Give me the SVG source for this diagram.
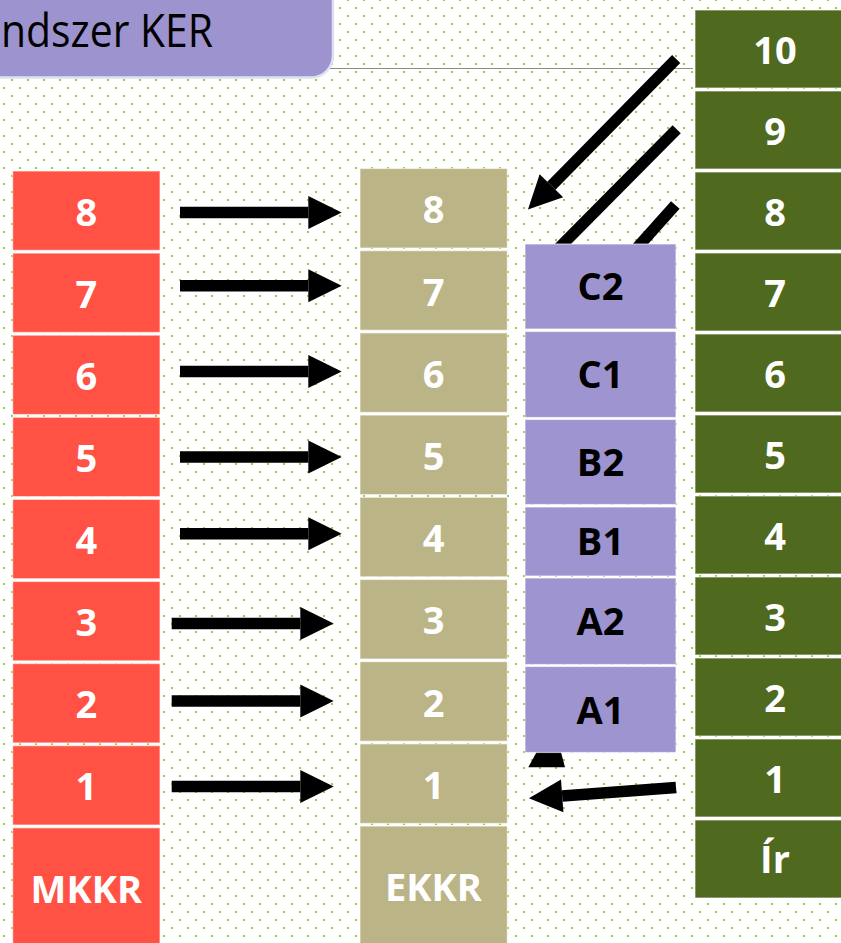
<svg xmlns="http://www.w3.org/2000/svg" width="841" height="943" viewBox="0 0 841 943">
<style>
.bg{fill:#fff}
.red{fill:#FF5244;stroke:#fff;stroke-opacity:.55;stroke-width:1.2}
.tan{fill:#BBB486;stroke:#fff;stroke-opacity:.55;stroke-width:1.2}
.grn{fill:#4F6A1E;stroke:#fff;stroke-opacity:.55;stroke-width:1.2}
.pur{fill:#9E94CF;stroke:#fff;stroke-opacity:.6;stroke-width:1.2}
.lw{font-family:"Open Sans","Liberation Sans",sans-serif;font-weight:bold;font-size:38px;fill:#fff;text-anchor:middle}
.lb{font-family:"Open Sans","Liberation Sans",sans-serif;font-weight:bold;font-size:38px;fill:#000;text-anchor:middle}
.arr{stroke:#000;stroke-width:11.5;fill:none;marker-end:url(#ah)}
</style>
<defs>
<pattern id="dots" x="0" y="-4" width="16" height="16" patternUnits="userSpaceOnUse">
<rect x="11" y="3" width="2" height="2" fill="#9ACD32"/>
<rect x="3" y="11" width="2" height="2" fill="#9ACD32"/>
</pattern>
<marker id="ah" markerUnits="userSpaceOnUse" markerWidth="40" markerHeight="40" viewBox="0 -20 40 40" refX="0" refY="0" orient="auto" overflow="visible">
<path d="M0,-16.5 L33.4,0 L0,16.5 Z" fill="#000"/>
</marker>
</defs>
<rect class="bg" x="0" y="0" width="841" height="943"/>
<rect x="0" y="0" width="841" height="943" fill="url(#dots)"/>
<line x1="330" y1="68.5" x2="693" y2="68.5" stroke="#8C8C8C" stroke-width="1.2"/>

<g id="title">
<path d="M-10,-10 H333 V55.5 A22,22 0 0 1 311,77.5 H-10 Z" fill="#9D93CF" stroke="#DCE3EE" stroke-width="2.5"/>
<text x="1" y="46.5" font-family="Open Sans, Liberation Sans, sans-serif" font-size="45" fill="#000" text-anchor="start" textLength="212" lengthAdjust="spacingAndGlyphs">ndszer KER</text>
</g>

<g id="mkkr">
<rect class="red" x="12.7" y="171" width="147.3" height="79.3"/><text class="lw" x="86.3" y="225.5">8</text>
<rect class="red" x="12.7" y="253.1" width="147.3" height="79.3"/><text class="lw" x="86.3" y="307.6">7</text>
<rect class="red" x="12.7" y="335.2" width="147.3" height="79.3"/><text class="lw" x="86.3" y="389.7">6</text>
<rect class="red" x="12.7" y="417.3" width="147.3" height="79.3"/><text class="lw" x="86.3" y="471.8">5</text>
<rect class="red" x="12.7" y="499.4" width="147.3" height="79.3"/><text class="lw" x="86.3" y="553.9">4</text>
<rect class="red" x="12.7" y="581.5" width="147.3" height="79.3"/><text class="lw" x="86.3" y="636">3</text>
<rect class="red" x="12.7" y="663.6" width="147.3" height="79.3"/><text class="lw" x="86.3" y="718.1">2</text>
<rect class="red" x="12.7" y="745.7" width="147.3" height="79.3"/><text class="lw" x="86.3" y="800.2">1</text>
<rect class="red" x="12.7" y="827.8" width="147.3" height="130"/><text class="lw" x="86.3" y="903.3">MKKR</text>
</g>

<g id="ekkr">
<rect class="tan" x="360" y="168.5" width="147.3" height="79.5"/><text class="lw" x="433.5" y="223.3">8</text>
<rect class="tan" x="360" y="250.7" width="147.3" height="79.5"/><text class="lw" x="433.5" y="305.5">7</text>
<rect class="tan" x="360" y="332.9" width="147.3" height="79.5"/><text class="lw" x="433.5" y="387.7">6</text>
<rect class="tan" x="360" y="415.1" width="147.3" height="79.5"/><text class="lw" x="433.5" y="469.9">5</text>
<rect class="tan" x="360" y="497.3" width="147.3" height="79.5"/><text class="lw" x="433.5" y="552.1">4</text>
<rect class="tan" x="360" y="579.5" width="147.3" height="79.5"/><text class="lw" x="433.5" y="634.3">3</text>
<rect class="tan" x="360" y="661.7" width="147.3" height="79.5"/><text class="lw" x="433.5" y="716.5">2</text>
<rect class="tan" x="360" y="743.9" width="147.3" height="79.5"/><text class="lw" x="433.5" y="798.7">1</text>
<rect class="tan" x="360" y="826.1" width="147.3" height="130"/><text class="lw" x="433.5" y="901">EKKR</text>
</g>

<g id="ir">
<rect class="grn" x="695" y="10" width="160" height="78"/><text class="lw" x="775" y="63.5">10</text>
<rect class="grn" x="695" y="91" width="160" height="78"/><text class="lw" x="775" y="145">9</text>
<rect class="grn" x="695" y="172" width="160" height="78"/><text class="lw" x="775" y="226">8</text>
<rect class="grn" x="695" y="253" width="160" height="78"/><text class="lw" x="775" y="307">7</text>
<rect class="grn" x="695" y="334" width="160" height="78"/><text class="lw" x="775" y="388">6</text>
<rect class="grn" x="695" y="415" width="160" height="78"/><text class="lw" x="775" y="469">5</text>
<rect class="grn" x="695" y="496" width="160" height="78"/><text class="lw" x="775" y="550">4</text>
<rect class="grn" x="695" y="577" width="160" height="78"/><text class="lw" x="775" y="631">3</text>
<rect class="grn" x="695" y="658" width="160" height="78"/><text class="lw" x="775" y="712">2</text>
<rect class="grn" x="695" y="739" width="160" height="78"/><text class="lw" x="775" y="793">1</text>
<rect class="grn" x="695" y="820" width="160" height="78"/><text class="lw" x="775" y="873">Ír</text>
</g>

<g id="connectors">
<line class="arr" x1="180" y1="212.5" x2="308.3" y2="212.5"/>
<line class="arr" x1="180" y1="285.8" x2="308.3" y2="285.8"/>
<line class="arr" x1="180" y1="371.4" x2="308.3" y2="371.4"/>
<line class="arr" x1="180" y1="457" x2="308.3" y2="457"/>
<line class="arr" x1="180" y1="533.7" x2="308.3" y2="533.7"/>
<line class="arr" x1="171.7" y1="623.4" x2="300.3" y2="623.4"/>
<line class="arr" x1="171.7" y1="701" x2="300.3" y2="701"/>
<line class="arr" x1="171.7" y1="786.6" x2="300.3" y2="786.6"/>
<line class="arr" x1="676.2" y1="59" x2="551.4" y2="185.8"/>
<line class="arr" x1="676.7" y1="129.2" x2="549" y2="258"/>
<line class="arr" x1="675.3" y1="205" x2="610" y2="278.1"/>
<line class="arr" x1="676" y1="787.5" x2="562.2" y2="795.9"/>
<polygon points="528.3,767.3 565,767.3 553,722" fill="#000"/>
</g>

<g id="levels">
<rect class="pur" x="525" y="244" width="151" height="85"/><text class="lb" x="600.5" y="300.3">C2</text>
<rect class="pur" x="525" y="331.5" width="151" height="86"/><text class="lb" x="600.5" y="388.2">C1</text>
<rect class="pur" x="525" y="419.5" width="151" height="85"/><text class="lb" x="600.5" y="475.7">B2</text>
<rect class="pur" x="525" y="507" width="151" height="69"/><text class="lb" x="600.5" y="555.2">B1</text>
<rect class="pur" x="525" y="578" width="151" height="86.5"/><text class="lb" x="600.5" y="634.9">A2</text>
<rect class="pur" x="525" y="666.5" width="151" height="86"/><text class="lb" x="600.5" y="723.8">A1</text>
</g>
</svg>
